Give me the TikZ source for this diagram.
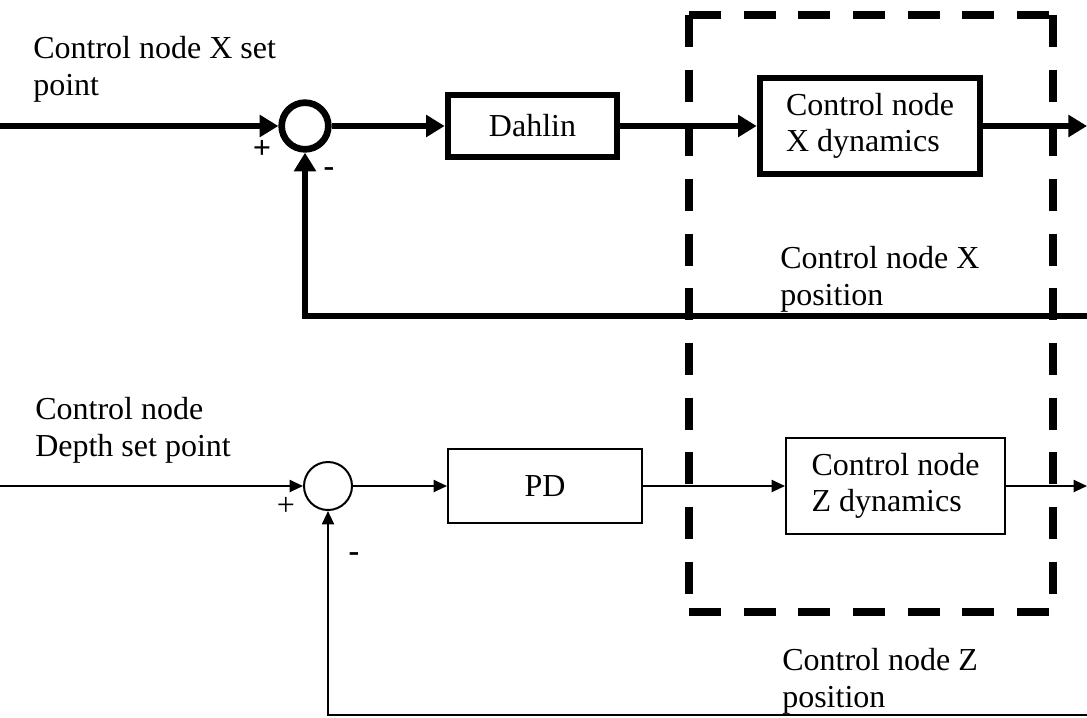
\documentclass[tikz,border=0pt]{standalone}
\usepackage{fontspec}
\setmainfont{Liberation Serif}
\usetikzlibrary{arrows.meta}
\begin{document}
\begin{tikzpicture}[x=0.75pt,y=-0.75pt,
  every node/.style={font=\fontsize{24pt}{27.5pt}\selectfont},
  thickln/.style={line width=5pt},
  thinln/.style={line width=1.5pt},
  thickarrow/.style={thickln,-{Triangle[length=14pt,width=16pt]}},
  thinarrow/.style={thinln,-{Triangle[length=10pt,width=9pt]}},
  sumthick/.style={circle,draw,thickln,minimum size=35pt,inner sep=0pt},
  sumthin/.style={circle,draw,thinln,minimum size=36pt,inner sep=0pt},
  boxthick/.style={rectangle,draw,thickln,inner sep=0pt},
  boxthin/.style={rectangle,draw,thinln,inner sep=0pt},
  lbl/.style={anchor=north west,align=left,inner sep=0pt},
  sgn/.style={inner sep=0pt},
  dashbox/.style={line width=6pt,dash pattern=on 24pt off 17pt}
]
\useasboundingbox (0,0) rectangle (1087,717);

% top loop
\coordinate (inX) at (0,126);
\coordinate (outX) at (1087,126);
\coordinate (fbX) at (1087,316);
\node[sumthick] (sumX) at (305,126) {};
\node[boxthick,minimum width=126.75pt,minimum height=46.5pt] (dahlin) at (532.5,126) {Dahlin};
\node[boxthick,minimum width=165pt,minimum height=72pt,align=left] (dynX) at (870,126) {Control node\\X dynamics};

\draw[thickarrow] (inX) -- (sumX);
\draw[thickarrow] (sumX) -- (dahlin);
\draw[thickarrow] (dahlin) -- (dynX);
\draw[thickarrow] (dynX) -- (outX);
\draw[thickarrow,line join=miter] (fbX) -| (sumX);

\node[sgn] (plusX) at (262,149) {\textbf{+}};
\node[sgn] (minusX) at (329,172) {\textbf{-}};

\node[lbl] (spX) at (33,36) {Control node X set\\point};
\node[lbl] (posX) at (780,246) {Control node X\\position};

% bottom loop
\coordinate (inZ) at (0,486);
\coordinate (outZ) at (1087,486);
\coordinate (fbZ) at (1087,715);
\node[sumthin] (sumZ) at (328,486) {};
\node[boxthin,minimum width=145.5pt,minimum height=55.5pt] (pd) at (545,486) {PD};
\node[boxthin,minimum width=164.25pt,minimum height=72pt,align=left] (dynZ) at (895.5,486) {Control node\\Z dynamics};

\draw[thinarrow] (inZ) -- (sumZ);
\draw[thinarrow] (sumZ) -- (pd);
\draw[thinarrow] (pd) -- (dynZ);
\draw[thinarrow] (dynZ) -- (outZ);
\draw[thinarrow] (fbZ) -| (sumZ);

\node[sgn] (plusZ) at (286,506) {+};
\node[sgn] (minusZ) at (354,557) {\textbf{-}};

\node[lbl] (spZ) at (35,397) {Control node\\Depth set point};
\node[lbl] (posZ) at (782,648) {Control node Z\\position};

% dashed boundary
\coordinate (TL) at (689,15);
\coordinate (TR) at (1053,15);
\coordinate (BL) at (689,612);
\coordinate (BR) at (1053,612);
\draw[dashbox] (TL) -- (TR);
\draw[dashbox] (TR) -- (BR);
\draw[dashbox] (TL) -- (BL);
\draw[dashbox] (BL) -- (BR);
\end{tikzpicture}
\end{document}
